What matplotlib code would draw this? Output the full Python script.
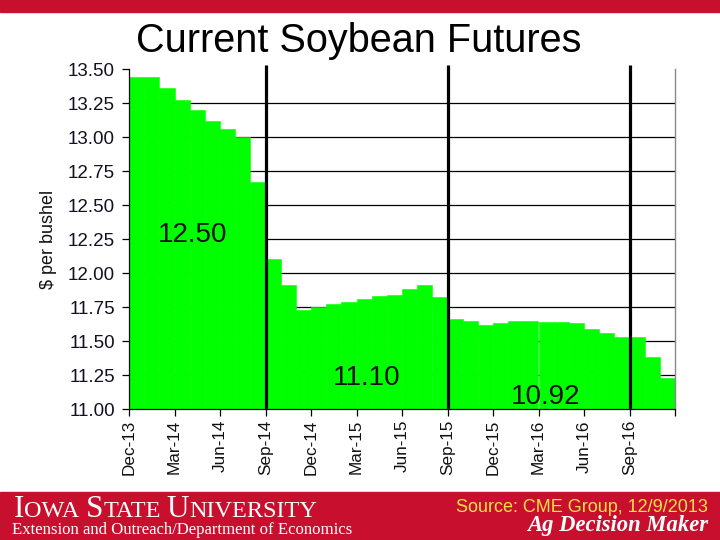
import numpy as np
import matplotlib
matplotlib.use('Agg')
from matplotlib import pyplot as plt
from matplotlib.patches import Rectangle

# monthly futures prices, Dec-13 .. Nov-16
months = ['Dec-13', 'Jan-14', 'Feb-14', 'Mar-14', 'Apr-14', 'May-14', 'Jun-14', 'Jul-14', 'Aug-14',
          'Sep-14', 'Oct-14', 'Nov-14', 'Dec-14', 'Jan-15', 'Feb-15', 'Mar-15', 'Apr-15', 'May-15',
          'Jun-15', 'Jul-15', 'Aug-15', 'Sep-15', 'Oct-15', 'Nov-15', 'Dec-15', 'Jan-16', 'Feb-16',
          'Mar-16', 'Apr-16', 'May-16', 'Jun-16', 'Jul-16', 'Aug-16', 'Sep-16', 'Oct-16', 'Nov-16']
prices = [13.44, 13.44, 13.36, 13.27, 13.20, 13.12, 13.06, 13.00, 12.67,
          12.10, 11.91, 11.73, 11.75, 11.77, 11.79, 11.81, 11.83, 11.84,
          11.88, 11.91, 11.82, 11.66, 11.65, 11.62, 11.63, 11.65, 11.65,
          11.64, 11.64, 11.63, 11.59, 11.56, 11.53, 11.53, 11.38, 11.23]

# marketing year boundaries (Sep) and average price per year
year_start = ['Sep-14', 'Sep-15', 'Sep-16']
year_avg = ['12.50', '11.10', '10.92']
avg_pos = [(4.2, 12.28), (15.7, 11.23), (27.5, 11.09)]

GREEN = '#00FF00'
RED = '#C8102E'

plt.rcParams['font.family'] = ['Liberation Sans', 'DejaVu Sans']

fig = plt.figure(figsize=(7.2, 5.4), dpi=100)
ax = fig.add_axes([129 / 720, 1 - 409 / 540, (675 - 129) / 720, (409 - 69) / 540])

x = np.arange(len(prices))
for y in np.arange(11.25, 13.3, 0.25):
    ax.axhline(y, color='black', lw=0.9, zorder=0.5)
ax.bar(x, np.array(prices) - 11.0, bottom=11.0, width=1.0, align='edge',
       color=GREEN, edgecolor=GREEN, linewidth=0.4, zorder=1)

for m in year_start:
    xi = months.index(m)
    ax.plot([xi, xi], [11.0, 13.53], color='black', lw=2.3, zorder=3,
            clip_on=False, solid_capstyle='butt')

for lab, (tx, ty) in zip(year_avg, avg_pos):
    ax.text(tx, ty, lab, fontsize=20, ha='center', va='center', color='#111111', zorder=4)

ax.set_xlim(0, len(prices))
ax.set_ylim(11.0, 13.5)
yt = np.arange(11.0, 13.51, 0.25)
ax.set_yticks(yt)
ax.set_yticklabels(['%.2f' % v for v in yt], fontsize=13.5, color='#111122')
xt = list(range(0, len(prices) + 1, 3))
ax.set_xticks(xt)
ax.set_xticklabels([months[i] if i < len(months) else '' for i in xt],
                   rotation=90, fontsize=12.3, color='#111111')
ax.tick_params(axis='both', direction='out', length=5, width=0.9, color='black')
ax.tick_params(axis='y', pad=5)
ax.tick_params(axis='x', pad=3)
ax.set_ylabel('$ per bushel', fontsize=13, color='#111111', labelpad=8)
ax.spines['top'].set_visible(False)
ax.spines['right'].set_color('#888888')
ax.spines['right'].set_linewidth(1.0)
ax.spines['left'].set_linewidth(0.9)
ax.spines['bottom'].set_linewidth(0.9)

fig.text(359 / 720, 1 - 41 / 540, 'Current Soybean Futures', fontsize=28.5,
         ha='center', va='center', color='black')

# top and bottom red bands
fig.add_artist(Rectangle((0, 1 - 12 / 540), 1, 12 / 540, transform=fig.transFigure,
                         color=RED, zorder=0))
fig.add_artist(Rectangle((0, 0), 1, 48 / 540, transform=fig.transFigure,
                         color=RED, zorder=0))

# Iowa State University in small caps, built piece by piece
renderer = fig.canvas.get_renderer()
pieces = [('I', 22.5), ('OWA', 17.5), (' ', 17.5), ('S', 22.5), ('TATE', 17.5), (' ', 17.5),
          ('U', 22.5), ('NIVERSITY', 17.5)]
px = 14
for s, size in pieces:
    t = fig.text(px / 720, 1 - 517 / 540, s, fontsize=size, family='Liberation Serif',
                 color='white', ha='left', va='baseline')
    if s == ' ':
        w = size * 100 / 72 * 0.25
    else:
        w = t.get_window_extent(renderer).width
    px += w

fig.text(12 / 720, 1 - 530 / 540, 'Extension and Outreach/Department of Economics',
         fontsize=12.1, family='Liberation Serif', color='white', ha='left', va='center')
fig.text(708 / 720, 1 - 507 / 540, 'Source: CME Group, 12/9/2013', fontsize=13,
         color='#F9E04B', ha='right', va='center')
fig.text(708 / 720, 1 - 525 / 540, 'Ag Decision Maker', fontsize=16.3,
         family='Liberation Serif', style='italic', weight='bold', color='white',
         ha='right', va='center')

fig.savefig('out.png', dpi=100)
